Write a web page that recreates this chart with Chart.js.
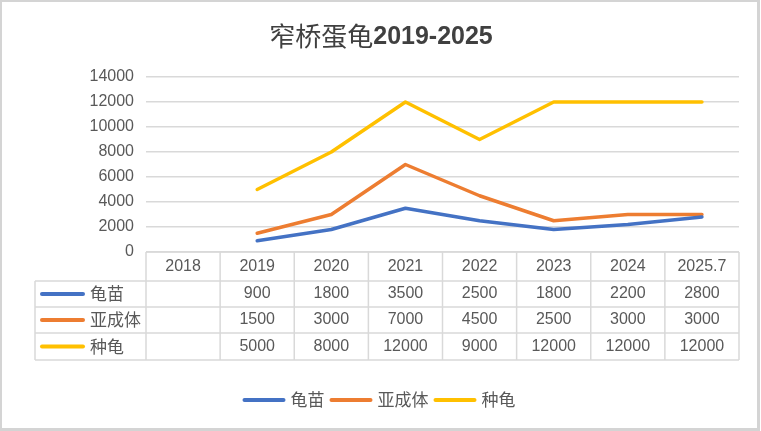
<!DOCTYPE html>
<html>
<head>
<meta charset="utf-8">
<script src="https://cdn.jsdelivr.net/npm/chart.js@4/dist/chart.umd.min.js"></script>
<style>
  html, body { margin: 0; padding: 0; background: #fff; }
  canvas { display: block; }
</style>
</head>
<body>
<canvas id="chart" width="761" height="431"></canvas>
<script>
// chart data
const years = ['2018', '2019', '2020', '2021', '2022', '2023', '2024', '2025.7'];
const guimiao = [null, 900, 1800, 3500, 2500, 1800, 2200, 2800];
const yachengti = [null, 1500, 3000, 7000, 4500, 2500, 3000, 3000];
const zhonggui = [null, 5000, 8000, 12000, 9000, 12000, 12000, 12000];
const seriesNames = ['龟苗', '亚成体', '种龟'];
const yTicks = [0, 2000, 4000, 6000, 8000, 10000, 12000, 14000];

const titleCn = '窄桥蛋龟';
const titleNum = '2019-2025';

const colors = ['#4472C4', '#ED7D31', '#FFC000'];
const textColor = '#595959';
const lineGray = '#d9d9d9';
const numFont = '"Liberation Sans", "Noto Sans CJK SC", sans-serif';
const cnFont = '"Noto Sans CJK SC", "Liberation Sans", sans-serif';

// draws title, data table under the plot, legend and frame
const extrasPlugin = {
    id: 'extras',
    afterDraw(chart) {
        const ctx = chart.ctx;
        const area = chart.chartArea;
        const xScale = chart.scales.x;
        const colW = (area.right - area.left) / years.length;
        ctx.save();

        // outer frame
        ctx.strokeStyle = '#d4d4d4';
        ctx.lineWidth = 3;
        ctx.strokeRect(0.5, 0.5, chart.width - 3, chart.height - 2);

        // title
        ctx.textBaseline = 'middle';
        ctx.fillStyle = '#404040';
        ctx.font = '26px ' + cnFont;
        const wCn = ctx.measureText(titleCn).width;
        ctx.font = 'bold 25px ' + numFont;
        const wNum = ctx.measureText(titleNum).width;
        let tx = 381 - (wCn + wNum) / 2;
        ctx.textAlign = 'left';
        ctx.font = '26px ' + cnFont;
        ctx.fillText(titleCn, tx, 36);
        ctx.font = 'bold 25px ' + numFont;
        ctx.fillText(titleNum, tx + wCn, 37);

        // table grid
        const top = area.bottom;
        const rowH = [29, 26, 26, 27];
        const rowY = [top];
        rowH.forEach(h => rowY.push(rowY[rowY.length - 1] + h));
        const tableLeft = 35;
        ctx.strokeStyle = lineGray;
        ctx.lineWidth = 1.5;
        ctx.beginPath();
        ctx.moveTo(area.left, top);
        ctx.lineTo(area.right, top);
        for (let r = 1; r < rowY.length; r++) {
            ctx.moveTo(tableLeft, rowY[r]);
            ctx.lineTo(area.right, rowY[r]);
        }
        ctx.moveTo(tableLeft, rowY[1]);
        ctx.lineTo(tableLeft, rowY[4]);
        for (let i = 0; i <= years.length; i++) {
            const x = area.left + i * colW;
            ctx.moveTo(x, top);
            ctx.lineTo(x, rowY[4]);
        }
        ctx.stroke();

        // table text
        ctx.fillStyle = textColor;
        ctx.textAlign = 'center';
        ctx.font = '16px ' + numFont;
        years.forEach((y, i) => {
            ctx.fillText(y, xScale.getPixelForValue(i), (rowY[0] + rowY[1]) / 2);
        });
        chart.data.datasets.forEach((ds, d) => {
            const cy = (rowY[d + 1] + rowY[d + 2]) / 2;
            ctx.textAlign = 'center';
            ctx.font = '16px ' + numFont;
            ds.data.forEach((v, i) => {
                if (v !== null) ctx.fillText(String(v), xScale.getPixelForValue(i), cy);
            });
            // legend key in table
            ctx.strokeStyle = ds.borderColor;
            ctx.lineWidth = 4;
            ctx.lineCap = 'round';
            ctx.beginPath();
            ctx.moveTo(42, cy);
            ctx.lineTo(83, cy);
            ctx.stroke();
            ctx.textAlign = 'left';
            ctx.font = '17px ' + cnFont;
            ctx.fillText(ds.label, 90, cy);
        });

        // bottom legend
        ctx.font = '17px ' + cnFont;
        const keyLen = 43, gap = 5, itemGap = 5;
        const widths = chart.data.datasets.map(ds => keyLen + gap + ctx.measureText(ds.label).width);
        const total = widths.reduce((a, b) => a + b, 0) + itemGap * (widths.length - 1);
        let lx = 379 - total / 2;
        const ly = 400;
        chart.data.datasets.forEach((ds, d) => {
            ctx.strokeStyle = ds.borderColor;
            ctx.lineWidth = 4;
            ctx.lineCap = 'round';
            ctx.beginPath();
            ctx.moveTo(lx + 2, ly);
            ctx.lineTo(lx + keyLen - 2, ly);
            ctx.stroke();
            ctx.fillStyle = textColor;
            ctx.textAlign = 'left';
            ctx.fillText(ds.label, lx + keyLen + gap, ly);
            lx += widths[d] + itemGap;
        });

        ctx.restore();
    }
};

const seriesValues = [guimiao, yachengti, zhonggui];

new Chart(document.getElementById('chart'), {
    type: 'line',
    data: {
        labels: years,
        datasets: seriesNames.map((name, i) => ({
            label: name,
            data: seriesValues[i],
            borderColor: colors[i],
            backgroundColor: colors[i],
            borderWidth: 3.5,
            pointRadius: 0,
            tension: 0,
            borderCapStyle: 'round',
            borderJoinStyle: 'round'
        }))
    },
    options: {
        responsive: false,
        animation: false,
        devicePixelRatio: 1,
        layout: {
            padding: { left: 0, right: 22, top: 77, bottom: 179 }
        },
        plugins: {
            legend: { display: false },
            title: { display: false },
            tooltip: { enabled: false }
        },
        scales: {
            x: {
                type: 'category',
                offset: true,
                display: false
            },
            y: {
                min: 0,
                max: 14000,
                afterFit(scale) { scale.width = 146; },
                afterBuildTicks(scale) { scale.ticks = yTicks.map(v => ({ value: v })); },
                ticks: {
                    color: textColor,
                    padding: 12,
                    font: { family: numFont, size: 16 },
                    callback: v => String(v)
                },
                grid: {
                    color: lineGray,
                    lineWidth: 1.5,
                    drawTicks: false
                },
                border: { display: false }
            }
        }
    },
    plugins: [extrasPlugin]
});
</script>
</body>
</html>
